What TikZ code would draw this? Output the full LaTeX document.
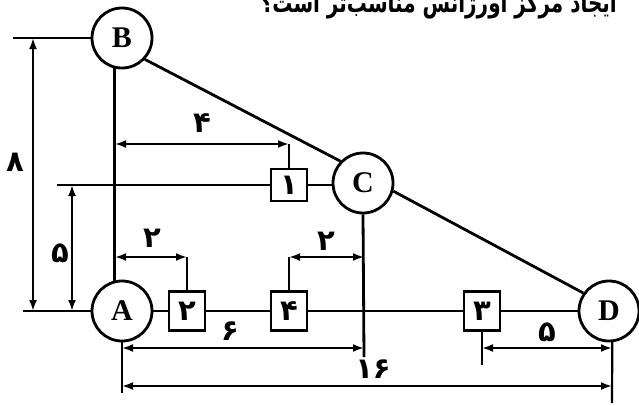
\documentclass[tikz,border=0pt]{standalone}
\usepackage{fontspec}
\usepackage{graphicx}
\setmainfont{Liberation Serif}
\newfontfamily\fa[Script=Arabic]{DejaVu Sans}
\TeXXeTstate=1
\usetikzlibrary{arrows.meta}
\begin{document}
\begin{tikzpicture}[x=1pt,y=-1pt,
  main/.style={line width=2.8pt},
  dim/.style={line width=2.2pt, {Latex[length=11pt,width=8pt]}-{Latex[length=11pt,width=8pt]}},
  tickline/.style={line width=2.2pt},
  station/.style={circle, draw, line width=2.8pt, minimum size=60pt, inner sep=0pt, fill=white, font=\bfseries\fontsize{30}{30}\selectfont},
  boxn/.style={draw, line width=2.8pt, minimum width=36pt, minimum height=39pt, inner sep=0pt, fill=white, font=\fa\bfseries\fontsize{29}{29}\selectfont},
  lbl/.style={font=\fa\bfseries\fontsize{29}{29}\selectfont, inner sep=0pt}
]
\useasboundingbox (0,0) rectangle (639,405);
\fill[white] (0,0) rectangle (639,405);

\node[anchor=base east, inner sep=0pt, font=\fa\bfseries\fontsize{27}{27}\selectfont] (title) at (617,12) {\scalebox{0.74}[1]{\beginR ایجاد مرکز اورژانس مناسب‌تر است؟\endR}};

% coordinates
\coordinate (bl) at (13,38);
\coordinate (al) at (23,311);
\coordinate (l5) at (57,185);

% main network lines
\draw[main] (al) -- (122,311) -- (609,311);
\draw[main] (bl) -- (122,38);
\draw[main] (l5) -- (333,185);

% stations
\node[station] (B) at (122,38) {B};
\node[station] (A) at (122,311) {A};
\node[station] (C) at (363,183) {C};
\node[station] (D) at (609,311) {D};

\draw[main] (B.256) -- (A.104);
\draw[main] (B.-43) -- (C.136);
\draw[main] (C.-15) -- (D.145);

% boxes
\node[boxn, minimum height=32pt] (b1) at (289,185) {۱};
\node[boxn] (b2) at (187,311) {۲};
\node[boxn] (b4) at (289,311) {۴};
\node[boxn] (b3) at (482,311) {۳};

% extension lines
\coordinate (cbot) at (364,357);
\coordinate (abot) at (122,393);
\coordinate (dbot) at (612,403);
\coordinate (b3bot) at (482,365);
\draw[main] (C.south) -- (cbot);
\draw[tickline] (A.south) -- (abot);
\draw[tickline] (D.-84) -- (dbot);
\draw[tickline] (b3.south) -- (b3bot);

% dimension: 8
\coordinate (d8t) at (33,38);
\coordinate (d8b) at (33,311);
\draw[dim] (d8t) -- (d8b);
\node[lbl] (t8) at (15,162) {۸};

% dimension: 5 (left)
\coordinate (d5t) at (72,185);
\coordinate (d5b) at (72,311);
\draw[dim] (d5t) -- (d5b);
\node[lbl] (t5a) at (60,253) {۵};

% dimension: 4
\coordinate (d4l) at (115,144);
\coordinate (d4r) at (289,144);
\draw[dim] (d4l) -- (d4r);
\draw[tickline] (d4r) -- (b1.north);
\node[lbl] (t4) at (202,123) {۴};

% dimension: 2 (left)
\coordinate (d2l) at (115,257);
\coordinate (d2r) at (187,257);
\draw[dim] (d2l) -- (d2r);
\draw[tickline] (d2r) -- (b2.north);
\node[lbl] (t2a) at (152,238) {۲};

% dimension: 2 (middle)
\coordinate (m2l) at (289,257);
\coordinate (m2r) at (364,257);
\draw[dim] (m2l) -- (m2r);
\draw[tickline] (m2l) -- (b4.north);
\node[lbl] (t2b) at (326,241) {۲};

% dimension: 6
\coordinate (d6l) at (122,348);
\coordinate (d6r) at (364,348);
\draw[dim] (d6l) -- (d6r);
\node[lbl] (t6) at (230,331) {۶};

% dimension: 5 (right)
\coordinate (r5l) at (482,348);
\coordinate (r5r) at (612,348);
\draw[dim] (r5l) -- (r5r);
\node[lbl] (t5b) at (547,332) {۵};

% dimension: 16
\coordinate (d16l) at (122,386);
\coordinate (d16r) at (612,386);
\draw[dim] (d16l) -- (d16r);
\node[lbl] (t16) at (373,369) {۱۶};
\end{tikzpicture}
\end{document}
